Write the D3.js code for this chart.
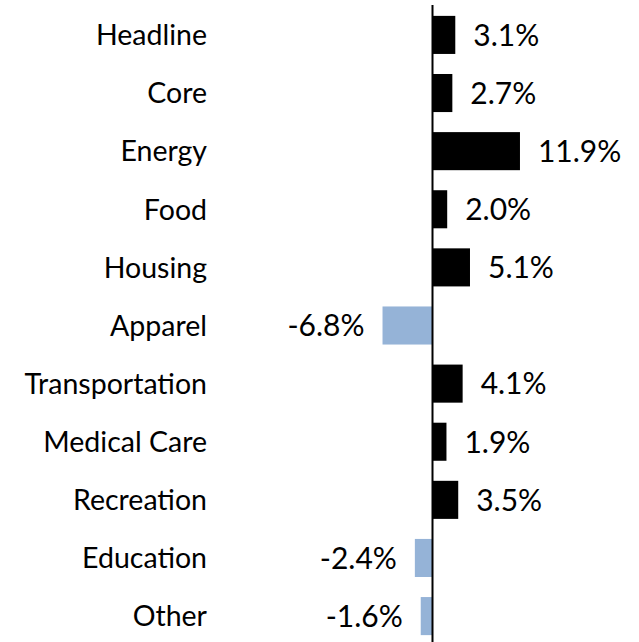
<!DOCTYPE html>
<html><head><meta charset="utf-8">
<script src="https://cdn.jsdelivr.net/npm/d3@7"></script>
<style>body{margin:0;background:#fff}svg{display:block}</style>
</head><body>
<svg id="c" width="639" height="642"></svg>
<script>
const categories = ["Headline","Core","Energy","Food","Housing","Apparel","Transportation","Medical Care","Recreation","Education","Other"];
const values = [3.1, 2.7, 11.9, 2.0, 5.1, -6.8, 4.1, 1.9, 3.5, -2.4, -1.6];
const valueLabels = ["3.1%","2.7%","11.9%","2.0%","5.1%","-6.8%","4.1%","1.9%","3.5%","-2.4%","-1.6%"];

const svg = d3.select("#c");
const font = "Lato, 'Open Sans', sans-serif";
const x = d3.scaleLinear().domain([-8, 14]).range([432.5 - 8*7.35, 432.5 + 14*7.35]);
const y = d3.scaleBand().domain(categories).range([6, 645]).paddingInner(0.345).paddingOuter(0.17);

const data = categories.map((c,i)=>({c, v: values[i], l: valueLabels[i]}));

svg.selectAll("rect.bar").data(data).join("rect")
  .attr("class","bar")
  .attr("x", d => x(Math.min(0,d.v)))
  .attr("width", d => Math.abs(x(d.v)-x(0)))
  .attr("y", d => y(d.c))
  .attr("height", y.bandwidth())
  .attr("fill", d => d.v < 0 ? "#95B3D7" : "#000");

svg.append("line")
  .attr("x1", x(0)).attr("x2", x(0))
  .attr("y1", 5).attr("y2", 642)
  .attr("stroke", "#000").attr("stroke-width", 2);

svg.selectAll("text.cat").data(data).join("text")
  .attr("class","cat")
  .attr("x", 207)
  .attr("y", d => y(d.c) + y.bandwidth()/2)
  .attr("dy", "0.36em")
  .attr("text-anchor","end")
  .attr("font-family", font).attr("font-size", 28.5)
  .text(d => d.c);

svg.selectAll("text.val").data(data).join("text")
  .attr("class","val")
  .attr("x", d => d.v < 0 ? x(d.v) - 18 : x(d.v) + 18)
  .attr("y", d => y(d.c) + y.bandwidth()/2)
  .attr("dy", "0.36em")
  .attr("text-anchor", d => d.v < 0 ? "end" : "start")
  .attr("font-family", font).attr("font-size", 30)
  .text(d => d.l);
</script>
</body></html>
